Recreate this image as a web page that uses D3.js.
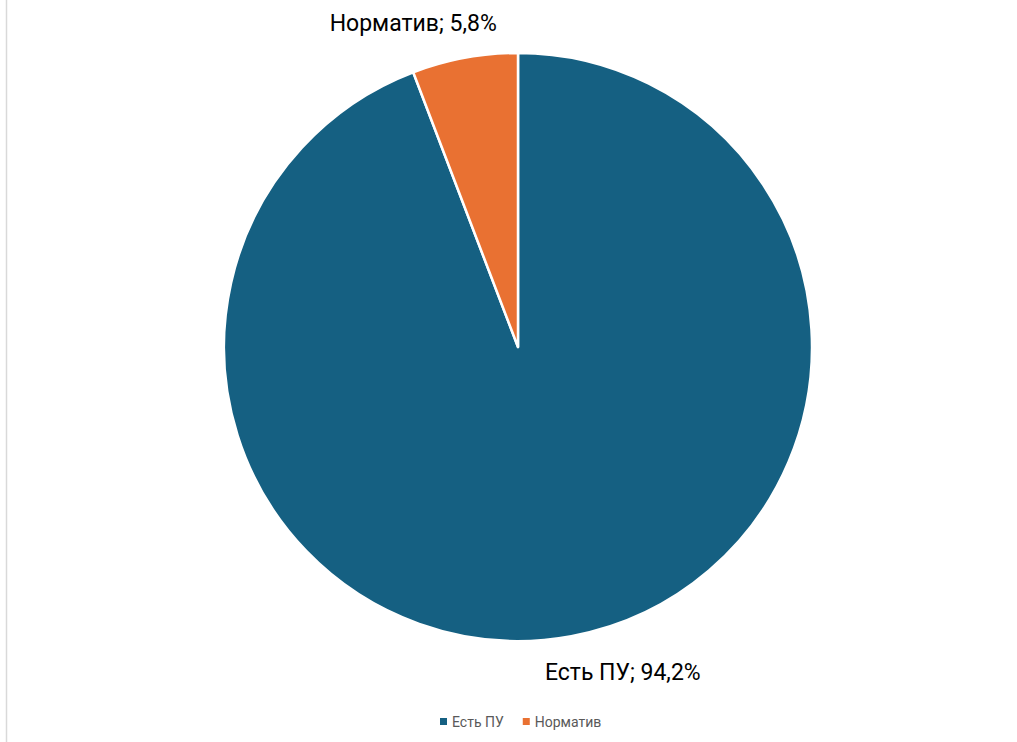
<!DOCTYPE html>
<html>

<head>
    <meta charset="UTF-8">
    <title>Pie chart</title>
    <script src="https://d3js.org/d3.v7.min.js"></script>
    <style>
        body { margin: 0; background: #fff; }
        svg { display: block; font-family: Roboto, "Noto Sans", sans-serif; }
    </style>
</head>

<body>
    <script>
        const categories = ["Есть ПУ", "Норматив"];
        const values = [94.2, 5.8];
        const colors = ["#156082", "#E97132"];

        const width = 1017, height = 742;
        const cx = 518, cy = 347, radius = 294;

        const data = categories.map((c, i) => ({ name: c, value: values[i], color: colors[i] }));

        const svg = d3.select("body").append("svg")
            .attr("width", width).attr("height", height);

        // faint chart border on the left
        svg.append("line")
            .attr("x1", 6.5).attr("x2", 6.5)
            .attr("y1", 0).attr("y2", height)
            .attr("stroke", "#d9d9d9").attr("stroke-width", 1.5);

        const pie = d3.pie().sort(null).value(d => d.value);
        const arc = d3.arc().innerRadius(0).outerRadius(radius);
        const arcs = pie(data);

        const g = svg.append("g").attr("transform", `translate(${cx},${cy})`);

        g.selectAll("path")
            .data(arcs)
            .enter().append("path")
            .attr("d", arc)
            .attr("fill", d => d.data.color)
            .attr("stroke", "#fff")
            .attr("stroke-width", 2.5)
            .attr("stroke-linejoin", "round");

        // outside labels: "name; value%"
        const fmt = v => d3.format(".1f")(v).replace(".", ",");
        g.selectAll("text.lbl")
            .data(arcs)
            .enter().append("text")
            .attr("class", "lbl")
            .attr("x", d => {
                const a = (d.startAngle + d.endAngle) / 2;
                return Math.sin(a) * (radius + 36) + Math.sign(Math.sin(a)) * 45;
            })
            .attr("y", d => {
                const a = (d.startAngle + d.endAngle) / 2;
                return -Math.cos(a) * (radius + 36);
            })
            .attr("dy", "0.35em")
            .attr("text-anchor", "middle")
            .attr("font-size", 23)
            .attr("fill", "#000")
            .text(d => `${d.data.name}; ${fmt(d.data.value)}%`);

        // legend
        const legend = svg.append("g").attr("transform", "translate(440,722)");
        let xo = 0;
        data.forEach(d => {
            const item = legend.append("g").attr("transform", `translate(${xo},0)`);
            item.append("rect")
                .attr("x", 0).attr("y", -4)
                .attr("width", 7).attr("height", 7)
                .attr("fill", d.color);
            const t = item.append("text")
                .attr("x", 12).attr("y", 0)
                .attr("dy", "0.35em")
                .attr("font-size", 14)
                .attr("fill", "#595959")
                .text(d.name);
            xo += 12 + t.node().getComputedTextLength() + 19;
        });
    </script>
</body>

</html>
